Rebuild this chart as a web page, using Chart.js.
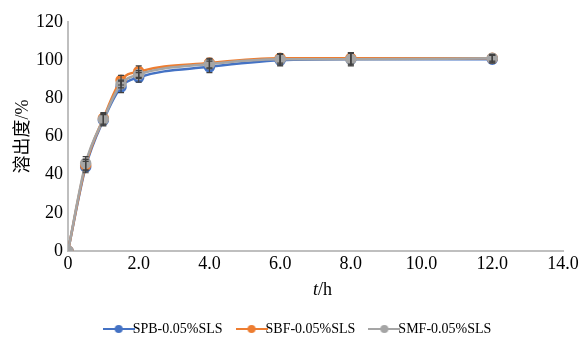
<!DOCTYPE html>
<html>
<head>
<meta charset="utf-8">
<script src="https://cdn.jsdelivr.net/npm/chart.js@4"></script>
<style>
  html, body { margin: 0; padding: 0; background: #fff; }
  #wrap { width: 582px; height: 340px; }
</style>
</head>
<body>
<div id="wrap"><canvas id="dissolutionChart"></canvas></div>
<script>
const times = [0, 0.5, 1, 1.5, 2, 4, 6, 8, 12];
const spb = [0, 44, 68.5, 86, 91, 96.5, 100, 100.5, 100.5];
const sbf = [0, 45, 69.5, 89.5, 94, 98.5, 101, 101, 101];
const smf = [0, 46, 69, 87.5, 92.5, 98, 100.5, 100.5, 101];
const spbErr = [0, 3, 3, 3, 2.5, 3, 3, 3, 2];
const sbfErr = [0, 3, 3, 2.5, 3, 2.5, 2.5, 3, 1.5];
const smfErr = [0, 3.5, 3, 2, 2, 2.5, 3, 3.5, 2];
const seriesNames = ['SPB-0.05%SLS', 'SBF-0.05%SLS', 'SMF-0.05%SLS'];
const colors = ['#4472C4', '#ED7D31', '#A5A5A5'];

const serif = "'Liberation Serif', 'Times New Roman', serif";
Chart.defaults.font.family = serif;

function toPoints(vals) {
    return times.map((t, i) => ({ x: t, y: vals[i] }));
}

// legend marker: short line with a dot in the middle
function legendMarker(color) {
    const c = document.createElement('canvas');
    c.width = 32; c.height = 10;
    const g = c.getContext('2d');
    g.strokeStyle = color;
    g.lineWidth = 2;
    g.beginPath(); g.moveTo(0, 5); g.lineTo(32, 5); g.stroke();
    g.fillStyle = color;
    g.beginPath(); g.arc(16, 5, 4, 0, Math.PI * 2); g.fill();
    return c;
}

const errorBars = {
    id: 'errorBars',
    afterDatasetsDraw(chart) {
        const ctx = chart.ctx;
        const yScale = chart.scales.y;
        ctx.save();
        ctx.strokeStyle = '#404040';
        ctx.lineWidth = 1.2;
        chart.data.datasets.forEach((ds, di) => {
            const meta = chart.getDatasetMeta(di);
            meta.data.forEach((pt, i) => {
                const e = ds.errors[i];
                if (!e) return;
                const v = ds.data[i].y;
                const top = yScale.getPixelForValue(v + e);
                const bot = yScale.getPixelForValue(v - e);
                ctx.beginPath();
                ctx.moveTo(pt.x, top); ctx.lineTo(pt.x, bot);
                ctx.moveTo(pt.x - 3, top); ctx.lineTo(pt.x + 3, top);
                ctx.moveTo(pt.x - 3, bot); ctx.lineTo(pt.x + 3, bot);
                ctx.stroke();
            });
        });
        ctx.restore();
    }
};

// x title with italic t
const xTitle = {
    id: 'xTitle',
    afterDraw(chart) {
        const ctx = chart.ctx;
        const cx = (chart.chartArea.left + chart.chartArea.right) / 2 + 7;
        const y = chart.chartArea.bottom + 39;
        ctx.save();
        ctx.fillStyle = '#000';
        ctx.textBaseline = 'middle';
        ctx.font = 'italic 18px ' + serif;
        const w1 = ctx.measureText('t').width;
        ctx.font = '18px ' + serif;
        const w2 = ctx.measureText('/h').width;
        const x0 = cx - (w1 + w2) / 2;
        ctx.font = 'italic 18px ' + serif;
        ctx.fillText('t', x0, y);
        ctx.font = '18px ' + serif;
        ctx.fillText('/h', x0 + w1, y);
        ctx.restore();
    }
};

// nudge the legend to the right like the original
const legendShift = {
    id: 'legendShift',
    afterLayout(chart) {
        if (chart.legend) {
            chart.legend.left += 20;
            chart.legend.right += 20;
        }
    }
};

const datasets = [spb, sbf, smf].map((vals, i) => ({
    label: seriesNames[i],
    data: toPoints(vals),
    errors: [spbErr, sbfErr, smfErr][i],
    borderColor: colors[i],
    backgroundColor: colors[i],
    borderWidth: 2.5,
    pointRadius: 4.5,
    pointStyle: 'circle',
    cubicInterpolationMode: 'monotone',
    order: 2 - i
}));

const ctx = document.getElementById('dissolutionChart').getContext('2d');
const dissolutionChart = new Chart(ctx, {
    type: 'line',
    data: { datasets: datasets },
    options: {
        responsive: true,
        maintainAspectRatio: false,
        animation: false,
        layout: { padding: { top: 22, right: 19, left: 0, bottom: -6 } },
        plugins: {
            tooltip: { enabled: false },
            legend: {
                position: 'bottom',
                labels: {
                    font: { family: serif, size: 14 },
                    color: '#000',
                    usePointStyle: true,
                    padding: 22,
                    generateLabels(chart) {
                        return chart.data.datasets.map((d, i) => ({
                            text: d.label,
                            pointStyle: legendMarker(d.borderColor),
                            fillStyle: d.borderColor,
                            strokeStyle: d.borderColor,
                            lineWidth: 0,
                            hidden: false,
                            datasetIndex: i
                        }));
                    }
                }
            }
        },
        scales: {
            x: {
                type: 'linear',
                min: 0,
                max: 14,
                ticks: {
                    stepSize: 2,
                    color: '#000',
                    font: { family: serif, size: 18 },
                    padding: 2,
                    callback: v => v === 0 ? '0' : v.toFixed(1)
                },
                grid: { display: false, drawTicks: false },
                border: { color: '#BFBFBF', width: 2 },
                afterFit(scale) { scale.height = 49; }
            },
            y: {
                min: 0,
                max: 120,
                ticks: {
                    stepSize: 20,
                    color: '#000',
                    font: { family: serif, size: 18 },
                    padding: 5
                },
                grid: { display: false, drawTicks: false },
                border: { color: '#BFBFBF', width: 2 },
                title: {
                    display: true,
                    text: '溶出度/%',
                    color: '#000',
                    font: { family: "'Liberation Serif', 'Noto Sans CJK SC', serif", size: 18 },
                    padding: { top: 12, bottom: 0 }
                },
                afterFit(scale) { scale.width = 68; }
            }
        }
    },
    plugins: [errorBars, xTitle, legendShift]
});
</script>
</body>
</html>
